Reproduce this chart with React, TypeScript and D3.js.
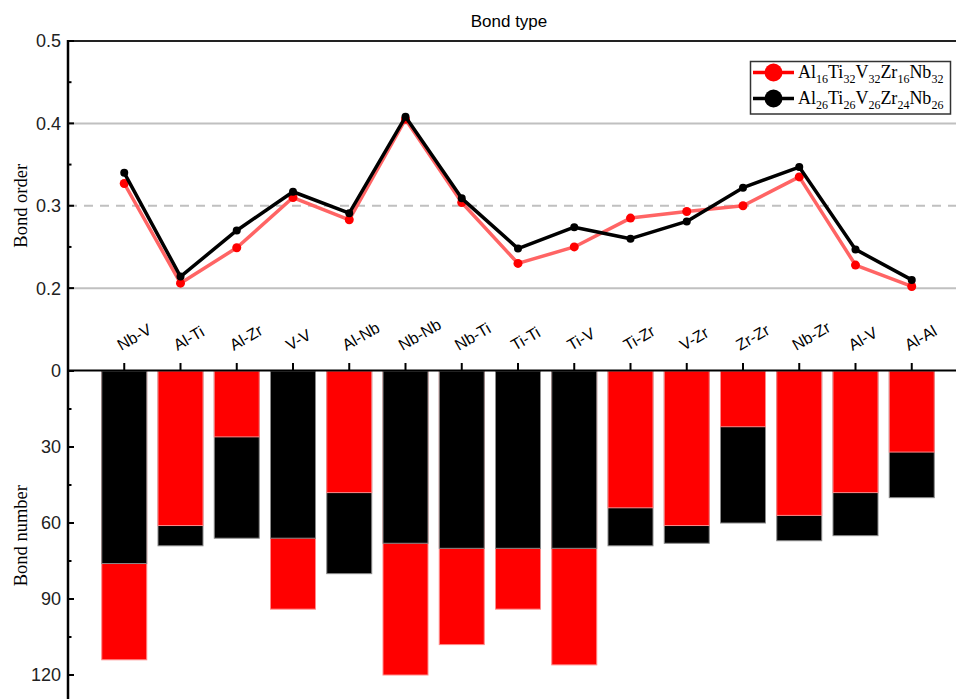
import React from "react";
import * as d3 from "d3";

// Bond types along the shared category axis
const bondTypes = [
  "Nb-V", "Al-Ti", "Al-Zr", "V-V", "Al-Nb", "Nb-Nb", "Nb-Ti", "Ti-Ti",
  "Ti-V", "Ti-Zr", "V-Zr", "Zr-Zr", "Nb-Zr", "Al-V", "Al-Al",
];

// Bond order of each alloy
const orderRed = [0.327, 0.206, 0.249, 0.310, 0.283, 0.405, 0.304, 0.230, 0.250, 0.285, 0.293, 0.300, 0.335, 0.228, 0.202];
const orderBlack = [0.340, 0.214, 0.270, 0.317, 0.291, 0.408, 0.309, 0.248, 0.274, 0.260, 0.281, 0.322, 0.347, 0.247, 0.210];

// Bond number of each alloy
const numberRed = [114, 61, 26, 94, 48, 120, 108, 94, 116, 54, 61, 22, 57, 48, 32];
const numberBlack = [76, 69, 66, 66, 80, 68, 70, 70, 70, 69, 68, 60, 67, 65, 50];

// Axis ticks
const orderTicks = [0.2, 0.3, 0.4, 0.5];
const orderMinorTicks = [0.25, 0.35, 0.45];
const numberTicks = [0, 30, 60, 90, 120];
const numberMinorTicks = [15, 45, 75, 105];

// Alloy compositions (element, subscript)
const alloyRed: [string, string][] = [["Al", "16"], ["Ti", "32"], ["V", "32"], ["Zr", "16"], ["Nb", "32"]];
const alloyBlack: [string, string][] = [["Al", "26"], ["Ti", "26"], ["V", "26"], ["Zr", "24"], ["Nb", "26"]];

const W = 956;
const H = 699;
const SANS = "'Liberation Sans', Arial, sans-serif";
const SERIF = "'Liberation Serif', 'Times New Roman', serif";

function Formula({ parts, x, y }: { parts: [string, string][]; x: number; y: number }) {
  const spans: React.ReactNode[] = [];
  parts.forEach(([el, sub], i) => {
    spans.push(<tspan key={`e${i}`} fontSize={18} dy={i === 0 ? 0 : -5}>{el}</tspan>);
    spans.push(<tspan key={`s${i}`} fontSize={12} dy={5}>{sub}</tspan>);
  });
  return (
    <text x={x} y={y} fontFamily={SERIF} fill="#000">
      {spans}
    </text>
  );
}

export default function App() {
  const x = d3.scaleLinear().domain([0, 16]).range([68, 968]);
  const yOrder = d3.scaleLinear().domain([0.1, 0.5]).range([370.5, 41]);
  const yNum = d3.scaleLinear().domain([0, 120]).range([371, 675]);
  const step = x(1) - x(0);
  const barW = step * 0.8;
  const axisX = x.range()[0];
  const rightX = x.range()[1];

  const line = d3
    .line<number>()
    .x((_, i) => x(i + 1))
    .y((d) => yOrder(d));

  return (
    <svg
      width={W}
      height={H}
      style={{ position: "absolute", left: 0, top: 0, display: "block", background: "#fff" }}
    >
      {/* title */}
      <text x={509} y={27} textAnchor="middle" fontFamily={SANS} fontSize={17}>
        Bond type
      </text>

      {/* bond order gridlines */}
      {[0.2, 0.4].map((v) => (
        <line key={v} x1={axisX} x2={rightX} y1={yOrder(v)} y2={yOrder(v)} stroke="#c0c0c0" strokeWidth={2} />
      ))}
      <line x1={axisX} x2={rightX} y1={yOrder(0.3)} y2={yOrder(0.3)} stroke="#c0c0c0" strokeWidth={2} strokeDasharray="9,7" />

      {/* bond number bars: larger value behind, smaller in front */}
      {bondTypes.map((b, i) => {
        const items = [
          { v: numberBlack[i], fill: "#000", stroke: "#8a8a8a" },
          { v: numberRed[i], fill: "#ff0000", stroke: "#ff8a8a" },
        ].sort((a, c) => c.v - a.v);
        return (
          <g key={b}>
            {items.map((it, k) => (
              <rect
                key={k}
                x={x(i + 1) - barW / 2}
                y={yNum(0)}
                width={barW}
                height={yNum(it.v) - yNum(0)}
                fill={it.fill}
                stroke={it.stroke}
                strokeWidth={1}
              />
            ))}
          </g>
        );
      })}

      {/* frame lines */}
      <line x1={axisX} x2={rightX} y1={41} y2={41} stroke="#222" strokeWidth={2} />
      <line x1={axisX} x2={rightX} y1={370.5} y2={370.5} stroke="#000" strokeWidth={2} />
      <line x1={axisX} x2={axisX} y1={40} y2={H} stroke="#000" strokeWidth={2.5} />

      {/* category ticks and labels */}
      {bondTypes.map((b, i) => (
        <g key={b}>
          <line x1={x(i + 1)} x2={x(i + 1)} y1={363} y2={370.5} stroke="#000" strokeWidth={2} />
          <text
            transform={`translate(${x(i + 1) - 3},351) rotate(-30)`}
            fontFamily={SANS}
            fontSize={16}
            textAnchor="start"
          >
            {b}
          </text>
        </g>
      ))}

      {/* bond order axis */}
      {orderTicks.map((v) => (
        <g key={v}>
          <line x1={axisX} x2={axisX + 6} y1={yOrder(v)} y2={yOrder(v)} stroke="#000" strokeWidth={2} />
          <text x={61} y={yOrder(v)} dy="0.36em" textAnchor="end" fontFamily={SANS} fontSize={18} fill="#222">
            {v.toFixed(1)}
          </text>
        </g>
      ))}
      {orderMinorTicks.map((v) => (
        <line key={v} x1={axisX} x2={axisX + 3.5} y1={yOrder(v)} y2={yOrder(v)} stroke="#000" strokeWidth={2} />
      ))}
      <text
        transform={`translate(21,${yOrder(0.3)}) rotate(-90)`}
        textAnchor="middle"
        dy="0.35em"
        fontFamily={SERIF}
        fontSize={18.5}
      >
        Bond order
      </text>

      {/* bond number axis */}
      {numberTicks.map((v) => (
        <g key={v}>
          <line x1={axisX} x2={axisX + 6} y1={yNum(v)} y2={yNum(v)} stroke="#000" strokeWidth={2} />
          <text x={61} y={yNum(v)} dy="0.36em" textAnchor="end" fontFamily={SANS} fontSize={18} fill="#222">
            {v}
          </text>
        </g>
      ))}
      {numberMinorTicks.map((v) => (
        <line key={v} x1={axisX} x2={axisX + 3.5} y1={yNum(v)} y2={yNum(v)} stroke="#000" strokeWidth={2} />
      ))}
      <text
        transform={`translate(21,${yNum(65)}) rotate(-90)`}
        textAnchor="middle"
        dy="0.35em"
        fontFamily={SERIF}
        fontSize={18.5}
      >
        Bond number
      </text>

      {/* bond order lines */}
      <path d={line(orderRed) || ""} fill="none" stroke="#ff6464" strokeWidth={3.5} strokeLinejoin="round" />
      {orderRed.map((v, i) => (
        <circle key={i} cx={x(i + 1)} cy={yOrder(v)} r={4.5} fill="#ff0000" />
      ))}
      <path d={line(orderBlack) || ""} fill="none" stroke="#000" strokeWidth={3.5} strokeLinejoin="round" />
      {orderBlack.map((v, i) => (
        <circle key={i} cx={x(i + 1)} cy={yOrder(v)} r={4} fill="#000" />
      ))}

      {/* legend */}
      <rect x={750.5} y={61.5} width={200} height={52.5} fill="#fff" stroke="#333" strokeWidth={1.5} />
      <line x1={753} x2={794} y1={72.5} y2={72.5} stroke="#ff0000" strokeWidth={3.5} />
      <circle cx={773.5} cy={72.5} r={9} fill="#ff0000" />
      <Formula parts={alloyRed} x={798} y={78} />
      <line x1={753} x2={794} y1={98.5} y2={98.5} stroke="#000" strokeWidth={3.5} />
      <circle cx={773.5} cy={98.5} r={9} fill="#000" />
      <Formula parts={alloyBlack} x={798} y={104} />
    </svg>
  );
}
